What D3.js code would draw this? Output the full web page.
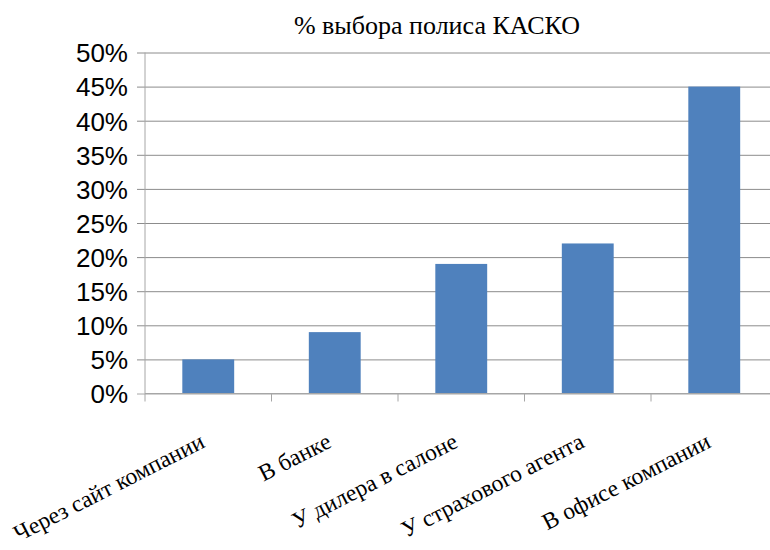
<!DOCTYPE html>
<html>
<head>
<meta charset="utf-8">
<script src="https://cdn.jsdelivr.net/npm/d3@7"></script>
<style>
  body { margin: 0; background: #fff; }
</style>
</head>
<body>
<div id="chart"></div>
<script>
var categories = ["Через сайт компании", "В банке", "У дилера в салоне", "У страхового агента", "В офисе компании"];
var values = [5, 9, 19, 22, 45];
var yTicks = [0, 5, 10, 15, 20, 25, 30, 35, 40, 45, 50];
var title = "% выбора полиса КАСКО";

var margin = {top: 52.5, right: 0, bottom: 156.5, left: 145},
    width = 632.5,
    height = 550 - margin.top - margin.bottom;

var svg = d3.select("#chart")
            .append("svg")
            .attr("width", 770)
            .attr("height", 550);

svg.append("text")
   .attr("x", 437)
   .attr("y", 34)
   .attr("text-anchor", "middle")
   .style("font-family", "'Liberation Serif'")
   .style("font-size", "26px")
   .attr("fill", "#000")
   .text(title);

var g = svg.append("g")
           .attr("transform", "translate(" + margin.left + "," + margin.top + ")");

var xScale = d3.scaleBand()
               .domain(categories)
               .range([0, width])
               .paddingInner(0.59)
               .paddingOuter(0.295);
var xTick = d3.scaleBand().domain(categories).range([0, width]);
var yScale = d3.scaleLinear()
               .domain([0, 50])
               .range([height, 0]);

// gridlines + y ticks
var yAxis = g.append("g")
             .call(d3.axisLeft(yScale)
                     .tickValues(yTicks)
                     .tickSizeOuter(0)
                     .tickFormat(d => d + "%"));
yAxis.select(".domain").remove();
yAxis.selectAll(".tick line")
     .attr("x1", -8)
     .attr("x2", width)
     .attr("stroke", d => d == 0 ? "#a6a6a6" : "#8c8c8c");
yAxis.selectAll(".tick text")
     .attr("x", -17)
     .attr("dy", "0.36em")
     .attr("fill", "#000")
     .style("font-family", "'Liberation Sans'")
     .style("font-size", "26px");

// bars
g.selectAll(".bar")
 .data(values)
 .enter()
 .append("rect")
 .attr("x", (d, i) => xScale(categories[i]))
 .attr("y", d => yScale(d))
 .attr("width", xScale.bandwidth())
 .attr("height", d => height - yScale(d))
 .attr("fill", "#4f81bd");

// y axis line
g.append("line")
 .attr("x1", 0).attr("x2", 0)
 .attr("y1", 0).attr("y2", height)
 .attr("stroke", "#a6a6a6");

// x axis ticks
var xAxis = g.append("g")
             .attr("transform", "translate(0," + height + ")");
xAxis.append("line")
     .attr("x1", 0).attr("x2", width)
     .attr("stroke", "#a6a6a6");
xAxis.selectAll(".xtick")
     .data(categories)
     .enter()
     .append("line")
     .attr("x1", d => xTick(d))
     .attr("x2", d => xTick(d))
     .attr("y1", 0).attr("y2", 8)
     .attr("stroke", "#a6a6a6");

xAxis.selectAll(".xlabel")
     .data(categories)
     .enter()
     .append("text")
     .attr("text-anchor", "end")
     .attr("transform", d => "translate(" + (xTick(d) + xTick.bandwidth() / 2 - 2) + ",53) rotate(-27)")
     .style("font-family", "'Liberation Serif'")
     .style("font-size", "23.5px")
     .attr("fill", "#000")
     .text(d => d);
</script>
</body>
</html>
